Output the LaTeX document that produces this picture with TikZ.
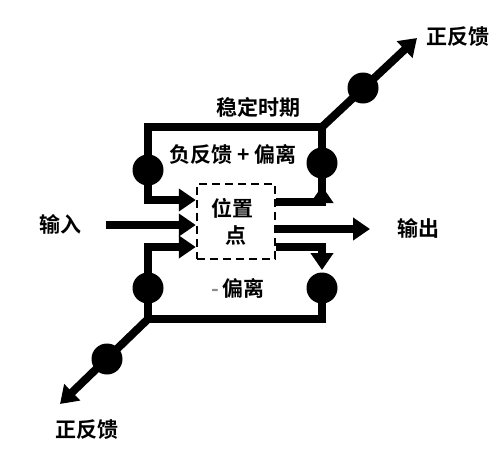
\documentclass[tikz,border=0pt]{standalone}
\usepackage{fontspec}
\newfontfamily\cjk{Noto Sans CJK SC Bold}
\usetikzlibrary{arrows.meta}
\begin{document}
\begin{tikzpicture}[x=1pt,y=-1pt,line cap=rect,line join=miter,>={Triangle[length=17pt,width=22pt]},
    wire/.style={line width=8pt},
    dot/.style={circle,fill=black,minimum size=31pt,inner sep=0pt},
    lbl/.style={font=\cjk\fontsize{21}{27}\selectfont,inner sep=0pt},
    setpoint/.style={draw,line width=2.5pt,dash pattern=on 8pt off 5pt,line cap=butt,
        minimum width=78pt,minimum height=75pt,align=center}]
    \useasboundingbox (0,0) rectangle (500,450);

    % the set point
    \node[setpoint,lbl] (pt) at (236,221.5) {\hspace*{-8pt}位置\\点};

    % corners of the two loops
    \coordinate (tl) at (148,127);
    \coordinate (tr) at (322,127);
    \coordinate (bl) at (148,319);
    \coordinate (br) at (322,319);
    \coordinate (in) at (110,225);
    \coordinate (out) at (370,229);
    \coordinate (pa) at (417,38);
    \coordinate (pb) at (60,404);

    % input and output
    \draw[wire,->] (in) -- (pt.west |- in);
    \draw[wire,->] (pt.east |- out) ++(4,0) -- (out);

    % upper loop
    \draw[wire,->] (tr) -- (tl) -- (148,200) -- (pt.west |- 0,200);
    \draw[wire] (322,192) -- (tr);
    \draw[wire,->] ([xshift=4pt]pt.east |- 0,202) -| (322,186);

    % lower loop
    \draw[wire,->] ([xshift=4pt]pt.east |- 0,247) -| (322,270);
    \draw[wire,->] (322,287) |- (bl) |- (pt.west |- 0,247);

    % positive feedback
    \draw[wire,->] (tr) -- (pa);
    \draw[wire,->] (bl) -- (pb);

    % the dots
    \node[dot] (d1) at (148,170) {};
    \node[dot] (d2) at (322,163) {};
    \node[dot] (d3) at (148,288) {};
    \node[dot] (d4) at (322,288) {};
    \node[dot] (d5) at (363,88) {};
    \node[dot] (d6) at (107,359) {};

    % text
    \node[lbl] (stable) at (258,107) {稳定时期};
    \node[lbl] (negdev) at (233,154) {负反馈 + 偏离};
    \node[lbl] (minusdev) at (238,288) {{\color{black!45}-}\,偏离};
    \node[lbl] (input) at (60,224) {输入};
    \node[lbl] (output) at (418,228) {输出};
    \node[lbl] (posa) at (458,37) {正反馈};
    \node[lbl] (posb) at (87,430) {正反馈};
\end{tikzpicture}
\end{document}
